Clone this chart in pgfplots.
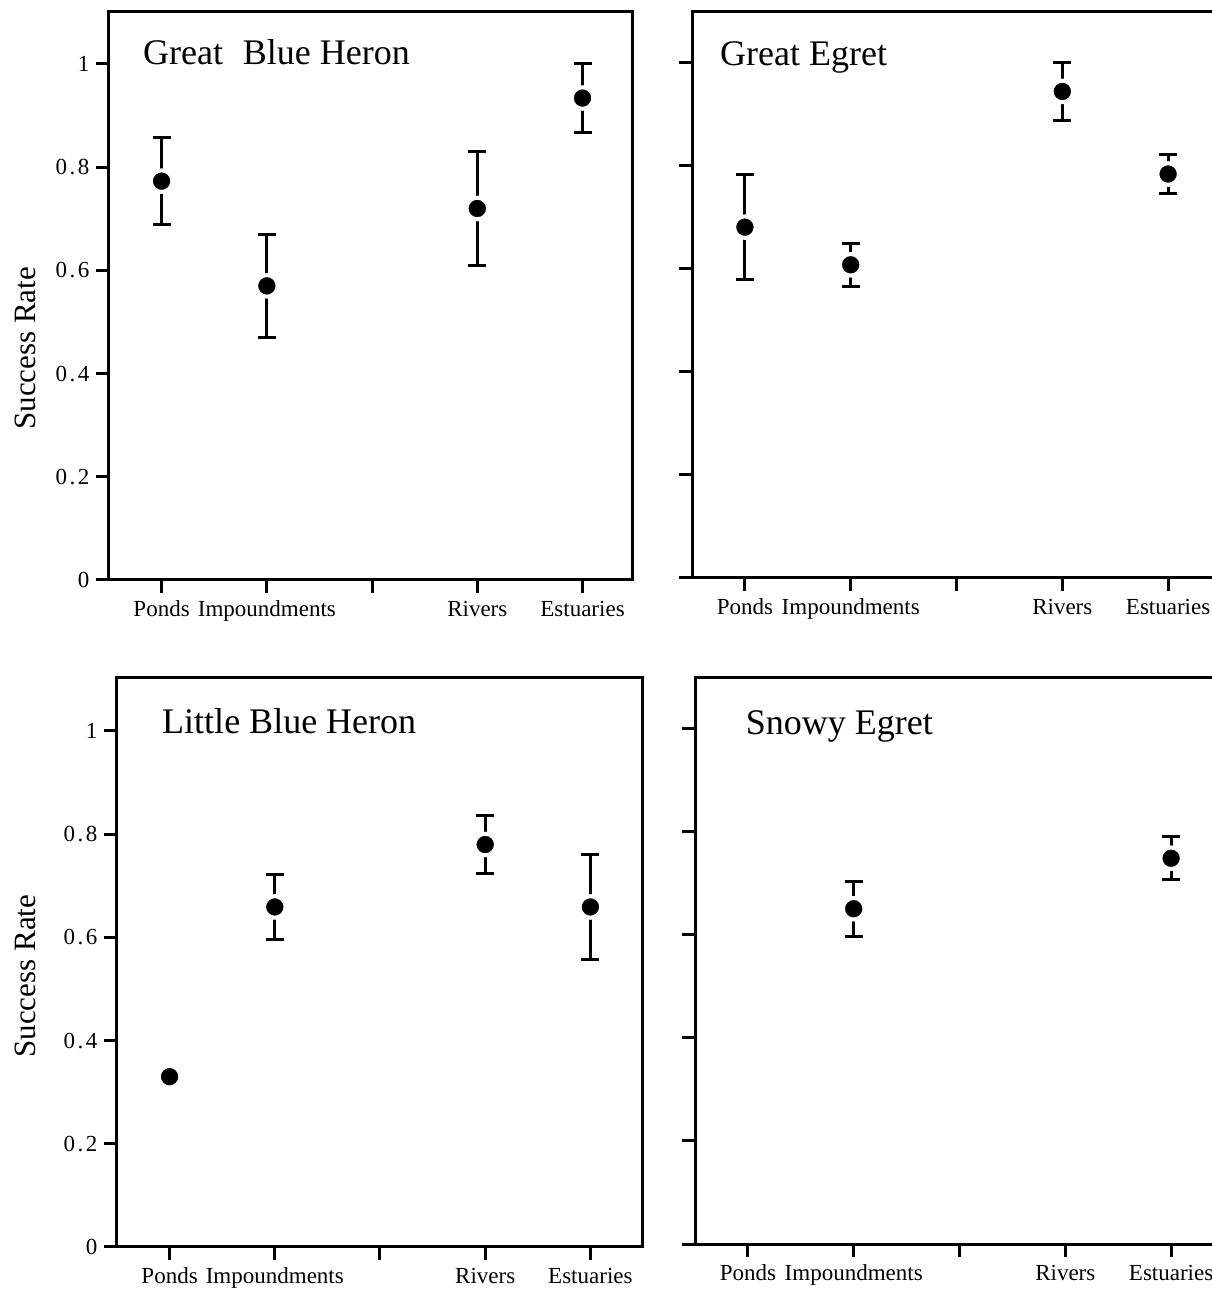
\documentclass[border=0pt]{standalone}
\usepackage{fontspec}
\setmainfont{Liberation Serif}
\usepackage{pgfplots}
\pgfplotsset{compat=1.18}
\usepackage{pgfplotstable}

\pgfplotstableread{
x y e
1 0.773 0.085
2 0.570 0.100
4 0.720 0.110
5 0.934 0.066
}\gbh
\pgfplotstableread{
x y e
1 0.680 0.102
2 0.607 0.042
4 0.943 0.057
5 0.783 0.037
}\ge
\pgfplotstableread{
x y e
2 0.659 0.063
4 0.780 0.056
5 0.659 0.101
}\lbh
\pgfplotstableread{
x y
1 0.330
}\lbhp
\pgfplotstableread{
x y e
2 0.651 0.053
5 0.749 0.042
}\se

\tikzset{ttl/.style={anchor=base west, inner sep=0pt, font=\fontsize{36}{40}\selectfont}}
\newcommand{\dg}[2]{#1\kern2.5pt.\kern2.5pt#2}

\pgfplotsset{
  panel/.style={
    scale only axis,
    anchor=south west,
    xmin=0.5, xmax=5.5, ymin=0, ymax=1.1,
    xtick={1,2,3,4,5},
    xticklabels={Ponds,Impoundments,,Rivers,Estuaries},
    ytick={0,0.2,0.4,0.6,0.8,1},
    yticklabels={0,\dg02,\dg04,\dg06,\dg08,1},
    xtick pos=bottom, ytick pos=left,
    tick align=outside,
    major tick length=13pt,
    tick style={black, line width=3pt},
    axis line style={line width=3pt},
    ticklabel style={font=\fontsize{23}{27}\selectfont},
    xticklabel style={text height=20pt, text depth=5pt},
    yticklabel style={xshift=-3pt},
    clip=false,
  },
  dots/.style={
    only marks, mark=*, mark size=10.8pt,
    mark options={fill=black, draw=white, line width=4pt},
    error bars/.cd, y dir=both, y explicit,
    error bar style={line width=3pt, black},
    error mark options={rotate=90, mark size=9pt, line width=3pt, black},
  },
  plaindots/.style={
    only marks, mark=*, mark size=10.8pt,
    mark options={fill=black, draw=white, line width=4pt},
  },
}

\begin{document}
\begin{tikzpicture}[x=1pt,y=1pt]
\path[use as bounding box] (0,0) rectangle (1212,1291);

% Top left
\begin{axis}[panel, at={(109pt,711pt)}, width=523pt, height=568pt, xmax=5.47, ymax=1.1008,
  ylabel={Success Rate},
  every axis y label/.style={at={(axis description cs:-0.159,0.408)}, rotate=90, anchor=center, font=\fontsize{31}{35}\selectfont}]
\addplot[dots] table[x=x, y=y, y error=e] {\gbh};
\node[ttl] at (rel axis cs:0.065,0.907) {Great\hspace{0.3em} Blue Heron};
\end{axis}

% Top right
\begin{axis}[panel, at={(692pt,713pt)}, width=529pt, height=566pt, ymax=1.097,
  yticklabels={}]
\addplot[dots] table[x=x, y=y, y error=e] {\ge};
\node[ttl] at (rel axis cs:0.053,0.906) {Great Egret};
\end{axis}

% Bottom left
\begin{axis}[panel, at={(117pt,44pt)}, width=526pt, height=569pt, ymax=1.1027,
  ylabel={Success Rate},
  every axis y label/.style={at={(axis description cs:-0.175,0.476)}, rotate=90, anchor=center, font=\fontsize{31}{35}\selectfont}]
\addplot[dots] table[x=x, y=y, y error=e] {\lbh};
\addplot[plaindots] table[x=x, y=y] {\lbhp};
\node[ttl] at (rel axis cs:0.0856,0.903) {Little Blue Heron};
\end{axis}

% Bottom right
\begin{axis}[panel, at={(695pt,47pt)}, width=529pt, height=566pt, ymax=1.099,
  yticklabels={}]
\addplot[dots] table[x=x, y=y, y error=e] {\se};
\node[ttl] at (rel axis cs:0.0957,0.901) {Snowy Egret};
\end{axis}
\end{tikzpicture}
\end{document}
